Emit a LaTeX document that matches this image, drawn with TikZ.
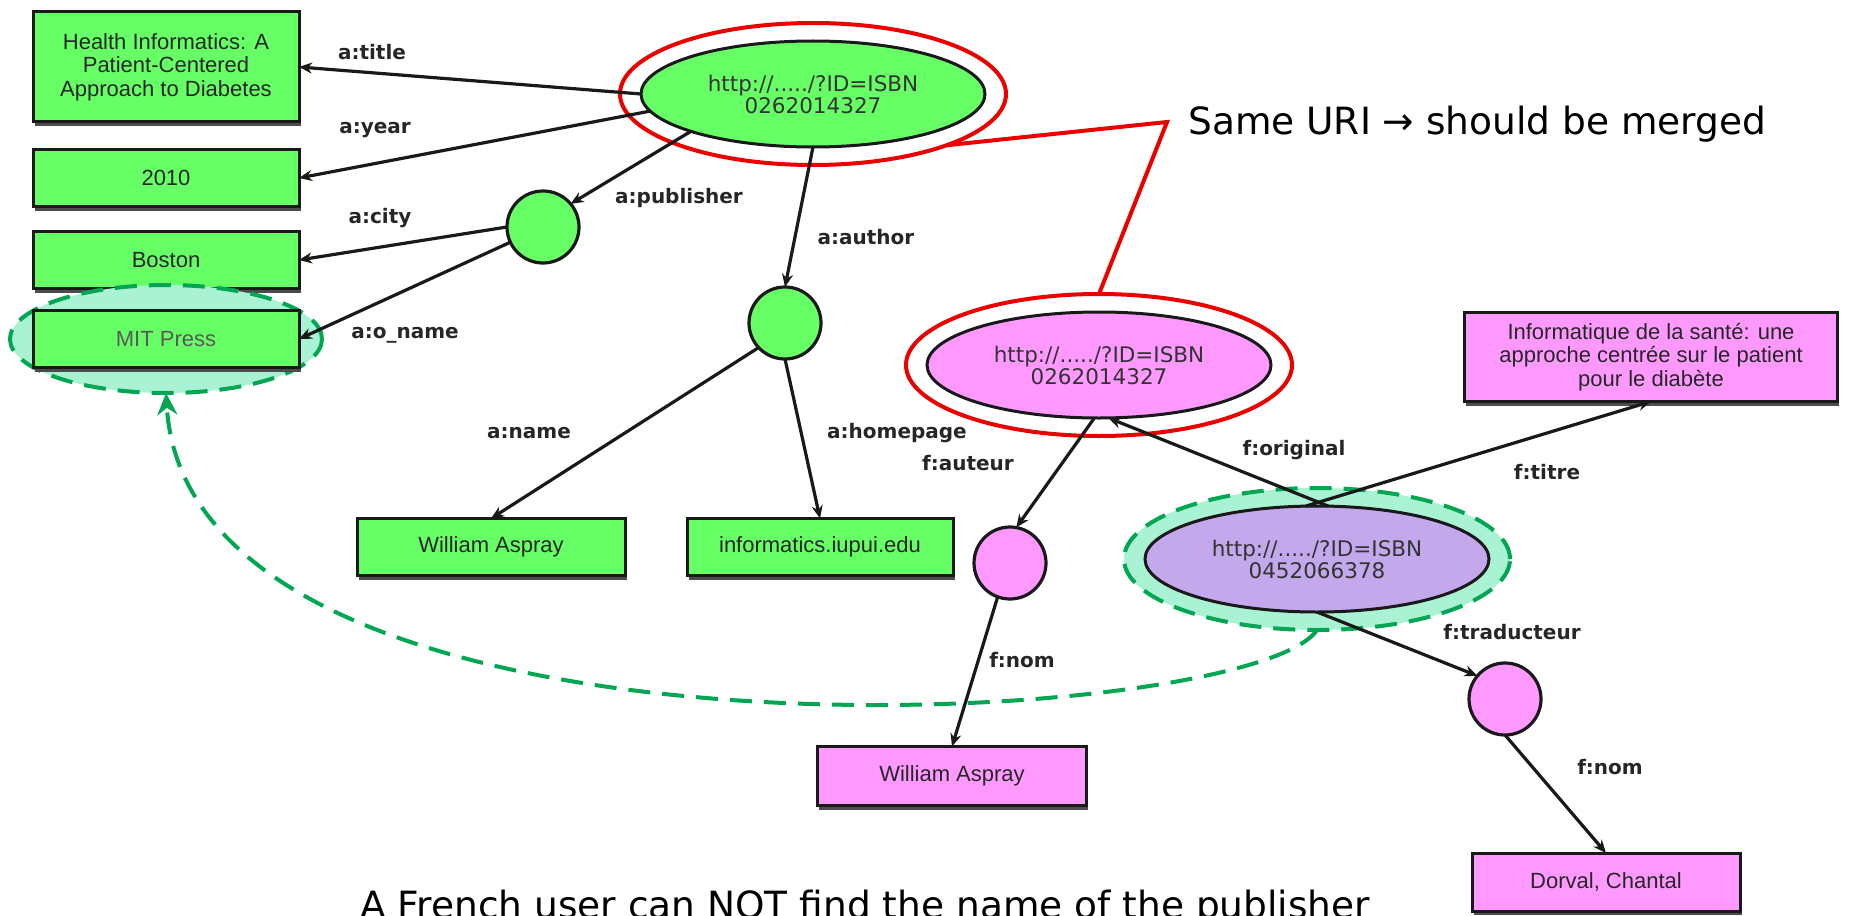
\documentclass[tikz,border=0pt]{standalone}
\usepackage{fontspec}
\setmainfont{Liberation Sans}
\newfontfamily\dejavu{DejaVu Sans}
\usetikzlibrary{shapes.geometric, arrows.meta, shadows}
\definecolor{ngreen}{RGB}{102,255,102}
\definecolor{npink}{RGB}{255,153,255}
\definecolor{nlav}{RGB}{196,168,236}
\definecolor{mint}{RGB}{170,242,212}
\definecolor{dgreen}{RGB}{0,166,81}
\definecolor{rred}{RGB}{235,0,0}
\begin{document}
\begin{tikzpicture}[x=1pt,y=-1pt,
  box/.style={draw=black!90, line width=3pt, minimum height=57pt, inner sep=0pt, outer sep=0pt, align=center,
    font=\fontsize{22}{23.5}\selectfont, text=black!85,
    drop shadow={shadow xshift=1.5pt, shadow yshift=-4pt, opacity=1, fill=black!70}},
  gbox/.style={box, fill=ngreen},
  pbox/.style={box, fill=npink},
  uri/.style={ellipse, draw=black!90, line width=3pt, minimum width=344pt, minimum height=106pt,
    inner sep=0pt, outer sep=0pt, align=center, font=\dejavu\fontsize{21.5}{22}\selectfont, text=black!80},
  blank/.style={circle, draw=black!90, line width=3.2pt, minimum size=72pt, inner sep=0pt, outer sep=0pt},
  redring/.style={ellipse, minimum width=386pt, minimum height=142pt, inner sep=0pt, outer sep=0pt,
    draw=rred, line width=4pt},
  gring/.style={ellipse, draw=dgreen, line width=4pt, dash pattern=on 22pt off 12pt,
    fill=mint, inner sep=0pt, outer sep=0pt},
  edge/.style={draw=black!90, line width=3.2pt, -{Stealth[length=13pt,width=11pt]}},
  lbl/.style={font=\dejavu\bfseries\fontsize{20}{22}\selectfont, text=black!85, inner sep=0pt},
  big/.style={font=\dejavu\fontsize{37.5}{40}\selectfont, inner sep=0pt, anchor=base west},
]
\useasboundingbox (0,0) rectangle (1851,915);

% left column (English graph)
\node[gbox, minimum width=266pt, minimum height=110pt] (title) at (166,67)
  {Health Informatics: A\\Patient-Centered\\Approach to Diabetes};
\node[gbox, minimum width=266pt] (y2010) at (166,178) {2010};
\node[gbox, minimum width=266pt] (boston) at (166,260) {Boston};
\node[gring, minimum width=312pt, minimum height=108pt] (ringM) at (166,339) {};
\node[gbox, minimum width=266pt, text=black!65] (mit) at (166,339) {MIT Press};

\node[uri, fill=ngreen] (A) at (813,94) {http://...../?ID=ISBN\\0262014327};
\node[redring] (ringA) at (813,94) {};
\node[blank, fill=ngreen] (pub) at (543,227) {};
\node[blank, fill=ngreen] (auth) at (785,323) {};
\node[gbox, minimum width=268pt] (wa1) at (491,547) {William Aspray};
\node[gbox, minimum width=266pt] (info) at (820,547) {informatics.iupui.edu};

% French graph
\node[uri, fill=npink] (B) at (1099,365) {http://...../?ID=ISBN\\0262014327};
\node[redring] (ringB) at (1099,365) {};
\node[pbox, minimum width=373pt, minimum height=89pt] (titre) at (1651,357)
  {Informatique de la santé: une\\approche centrée sur le patient\\pour le diabète};
\node[blank, fill=npink] (aut) at (1010,563) {};
\node[gring, minimum width=386pt, minimum height=142pt] (ringC) at (1317,559) {};
\node[uri, fill=nlav] (C) at (1317,559) {http://...../?ID=ISBN\\0452066378};
\node[blank, fill=npink] (trad) at (1505,699) {};
\node[pbox, minimum width=269pt, minimum height=59pt] (wa2) at (952,776) {William Aspray};
\node[pbox, minimum width=268pt, minimum height=58pt] (dorval) at (1606,882) {Dorval, Chantal};

% edges
\draw[edge] (A.west) -- (title.east);
\draw[edge] (A.186) -- (y2010.east);
\draw[edge] (A.197) -- (pub.40);
\draw[edge] (pub.west) -- (boston.east);
\draw[edge] (pub.205) -- (mit.east);
\draw[edge] (A.south) -- (auth.north);
\draw[edge] (auth.223) -- (wa1.north);
\draw[edge] (auth.south) -- (info.north);
\draw[edge] (B.265) -- (aut.80);
\draw[edge] (C.78) -- (B.-80);
\draw[edge] (C.102) -- (titre.south);
\draw[edge] (C.south) -- (trad.140);
\draw[edge] (aut.250) -- (wa2.north);
\draw[edge] (trad.south) -- (dorval.north);

% edge labels
\node[lbl] (ltitle) at (372,52) {a:title};
\node[lbl] (lyear) at (375,130) {a:year};
\node[lbl] (lcity) at (380,218) {a:city};
\node[lbl] (loname) at (405,335) {a:o\_name};
\node[lbl] (lpub) at (679,198) {a:publisher};
\node[lbl] (lauth) at (866,237) {a:author};
\node[lbl] (lname) at (529,433) {a:name};
\node[lbl] (lhome) at (897,433) {a:homepage};
\node[lbl] (lfaut) at (968,463) {f:auteur};
\node[lbl] (lorig) at (1294,450) {f:original};
\node[lbl] (ltitre) at (1547,472) {f:titre};
\node[lbl] (ltrad) at (1512,632) {f:traducteur};
\node[lbl] (lnom1) at (1022,660) {f:nom};
\node[lbl] (lnom2) at (1610,767) {f:nom};

% same-URI callout
\coordinate (vtx) at (1167,122);
\draw[rred, line width=4pt, line join=miter] (ringA.-21) -- (vtx) -- (ringB.north);
\node[big] (same) at (1188,135) {Same URI → should be merged};

% missing link
\draw[dgreen, line width=4pt, dash pattern=on 22pt off 12pt, -{Stealth[length=22pt,width=20pt]}]
  (ringC.south) .. controls (1250,730) and (190,790) .. (ringM.south);

\node[big] (note) at (360,918) {A French user can NOT find the name of the publisher};
\end{tikzpicture}
\end{document}
